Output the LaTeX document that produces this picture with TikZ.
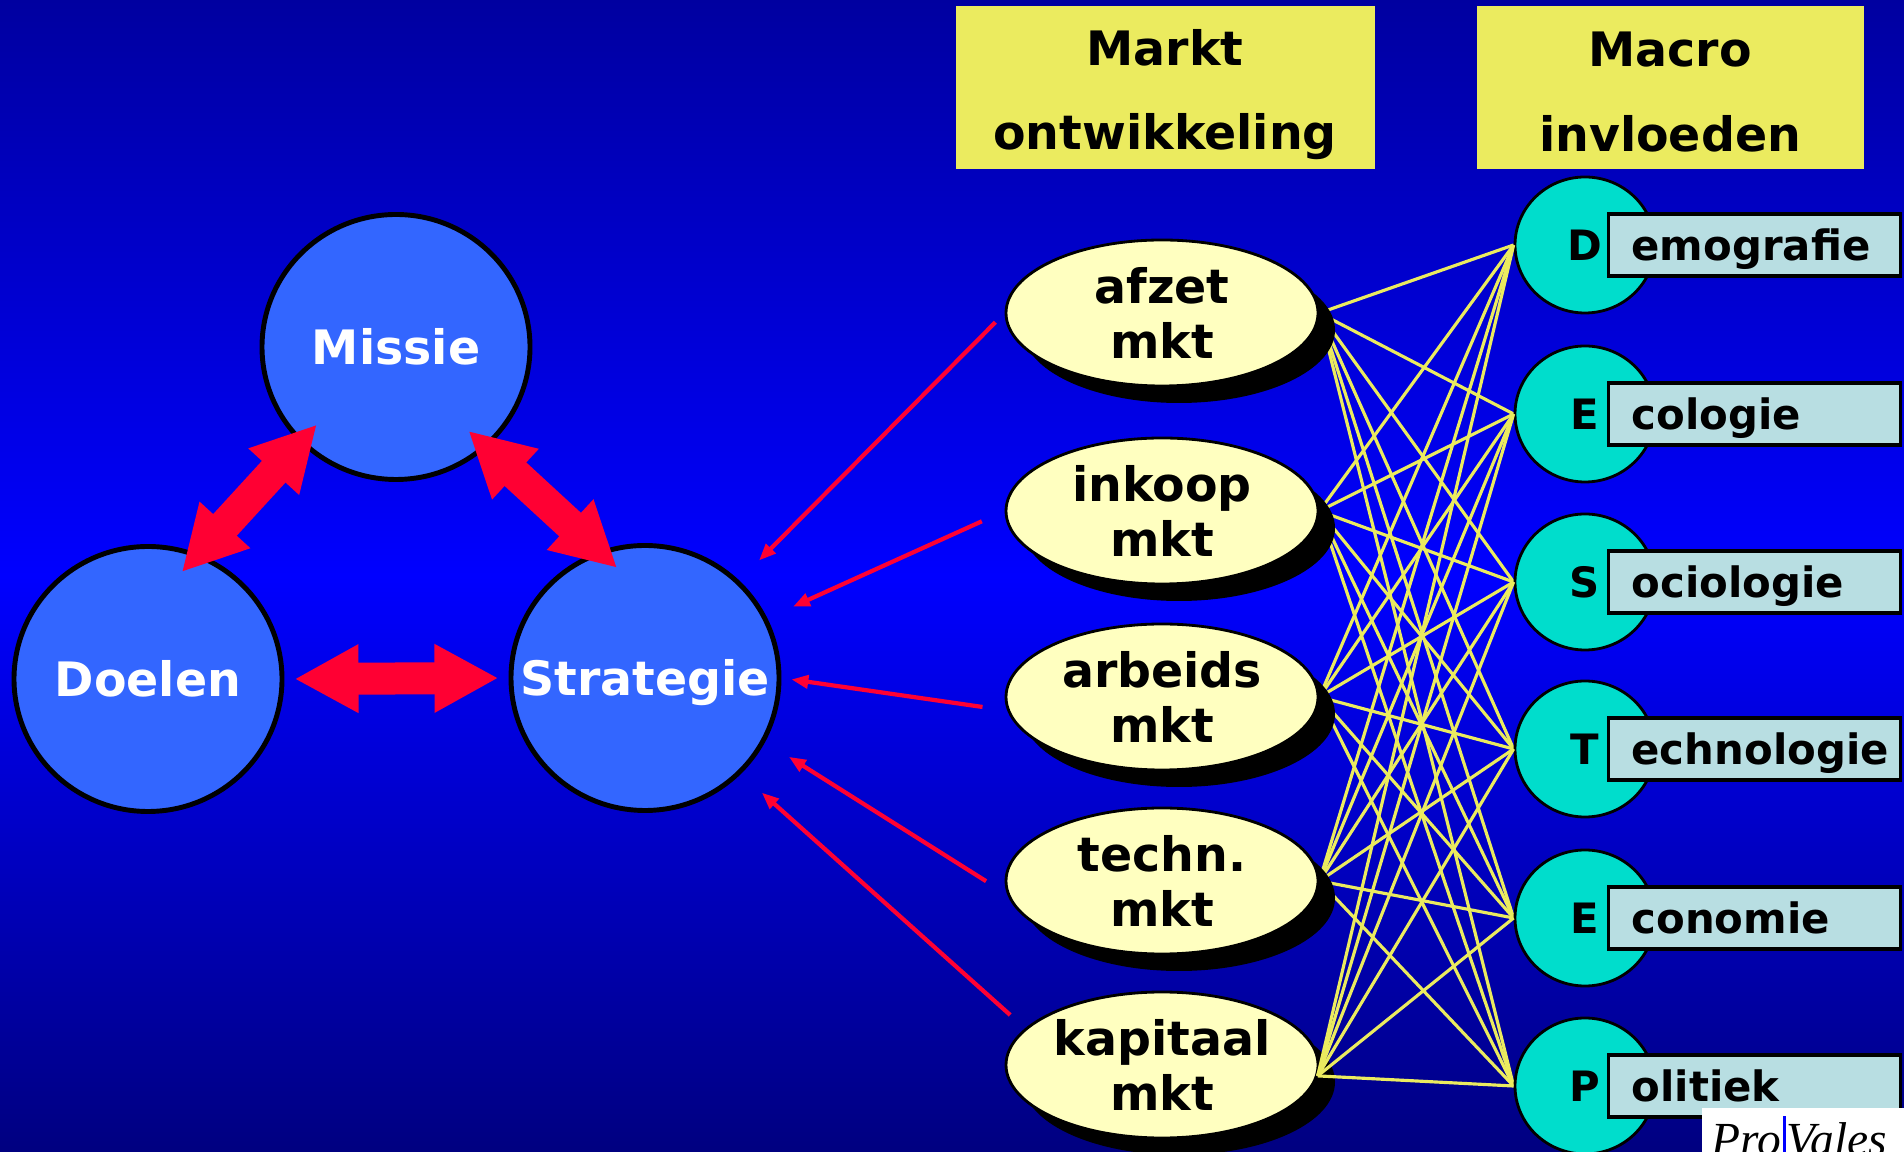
\documentclass[tikz,border=0pt]{standalone}
\usepackage{fontspec}
\setmainfont{DejaVu Sans}
\newfontfamily\logofont{Liberation Serif}
\usetikzlibrary{shapes.geometric,arrows.meta,shadows}
\definecolor{bgdark}{RGB}{0,0,160}
\definecolor{bgmid}{RGB}{0,0,255}
\definecolor{bglow}{RGB}{0,0,128}
\definecolor{goalblue}{RGB}{51,102,255}
\definecolor{arrowred}{RGB}{255,0,51}
\definecolor{headyellow}{RGB}{235,235,95}
\definecolor{mktyellow}{RGB}{255,255,192}
\definecolor{turq}{RGB}{0,221,204}
\definecolor{labelcyan}{RGB}{184,222,226}
\pgfdeclarelayer{back}
\pgfdeclarelayer{web}
\pgfsetlayers{back,web,main}

\begin{document}
\begin{tikzpicture}[x=0.1mm, y=-0.1mm,
    goal/.style = {draw, ellipse, line width=1.4pt, fill=goalblue, minimum width=26.8mm, minimum height=26.5mm, inner sep=-15mm, text=white, font=\fontsize{13.5}{16}\selectfont\bfseries, text height=9.8pt, text depth=0pt},
    head/.style = {fill=headyellow, align=center, minimum height=16.3mm, inner ysep=0pt, font=\fontsize{13.5}{24.1}\selectfont\bfseries},
    mkt/.style = {draw, ellipse, line width=0.8pt, fill=mktyellow, minimum width=31.2mm, minimum height=14.6mm, inner sep=-15mm, align=center, font=\fontsize{13.5}{15.4}\selectfont\bfseries, drop shadow={shadow xshift=1.7mm, shadow yshift=-1.7mm, fill=black, opacity=1}},
    inv/.style = {draw, ellipse, line width=0.8pt, fill=turq, minimum width=14mm, minimum height=13.6mm, inner sep=0pt, font=\fontsize{11.9}{14}\selectfont\bfseries},
    invtxt/.style = {draw, line width=0.9pt, fill=labelcyan, anchor=west, text width=24.6mm, inner xsep=2.3mm, inner ysep=0pt, minimum height=6.2mm, align=left, text height=9pt, text depth=0pt, font=\fontsize{11.9}{14}\selectfont\bfseries},
    link/.style = {draw=arrowred, line width=3.2mm, {Triangle[length=6.4mm,width=6.4mm]}-{Triangle[length=6.4mm,width=6.4mm]}},
    pull/.style = {draw=arrowred, line width=1.2pt, -{Triangle[length=1.7mm,width=1.3mm]}, shorten >=2.8mm, shorten <=2.5mm},
    web/.style = {draw=headyellow, line width=0.9pt}]
  \useasboundingbox (0,0) rectangle (1904,1152);
  \clip (0,0) rectangle (1904,1152);
  \begin{pgfonlayer}{back}
    \shade[top color=bgdark, bottom color=bglow, middle color=bgmid] (0,0) rectangle (1904,1152);
  \end{pgfonlayer}

  \node[goal] (missie) at (396,347) {Missie};
  \node[goal] (doelen) at (148,679) {Doelen};
  \node[goal] (strategie) at (645,678) {Strategie};

  \node[head, minimum width=41.9mm] (markt) at (1165,88) {\rule{0pt}{14pt}Markt\\ontwikkeling};
  \node[head, minimum width=38.7mm] (macro) at (1670,88) {\rule{0pt}{12pt}Macro\\invloeden};

  \node[mkt] (afzet) at (1162,313) {afzet\\mkt};
  \node[mkt] (inkoop) at (1162,511) {inkoop\\mkt};
  \node[mkt] (arbeids) at (1162,697) {arbeids\\mkt};
  \node[mkt] (techn) at (1162,881) {techn.\\mkt};
  \node[mkt] (kapitaal) at (1162,1065) {kapitaal\\mkt};

  \foreach \ini/\rest/\y [count=\i] in {D/emografie/245, E/cologie/414, S/ociologie/582, T/echnologie/749, E/conomie/918, P/olitiek/1086}{
    \node[inv] (inv\i) at (1585,\y) {\ini};
    \node[invtxt] (inv\i-txt) at (1607,\y) {\rest};
  }

  \begin{pgfonlayer}{web}
    \foreach \m in {afzet,inkoop,arbeids,techn}
      \foreach \i in {1,...,6}
        \draw[web] (\m.east) -- (inv\i.west);
  \end{pgfonlayer}
  \foreach \i in {1,...,6}
    \draw[web] (kapitaal.-4) -- (inv\i.west);

  \draw[link, shorten <=-2.5mm, shorten >=-2.5mm] (missie.225) -- (doelen.68);
  \draw[link, shorten <=-2.5mm, shorten >=-2.5mm] (missie.312) -- (strategie.110);
  \draw[link, shorten <=1mm, shorten >=1mm] (doelen.east) -- (strategie.west);

  \draw[pull, shorten <=1.3mm] (afzet.west) -- (strategie.46);
  \draw[pull] (inkoop.west) -- (strategie.26);
  \draw[pull, shorten >=1mm] (arbeids.185) -- (strategie.east);
  \draw[pull] (techn.185) -- (strategie.-28);
  \draw[pull, shorten <=2mm] (kapitaal.165) -- (strategie.-45);

  \fill[white] (1702,1108) rectangle (1904,1152);
  \node[font=\logofont\itshape\fontsize{13.5}{16}\selectfont, anchor=base east, inner sep=0pt] (pro) at (1782,1155) {Pro};
  \node[font=\logofont\itshape\fontsize{13.5}{16}\selectfont, anchor=base west, inner sep=0pt] (vales) at (1786,1155) {Vales};
  \draw[bgmid, line width=0.3mm] (1784,1116) -- (1784,1152);
\end{tikzpicture}
\end{document}
